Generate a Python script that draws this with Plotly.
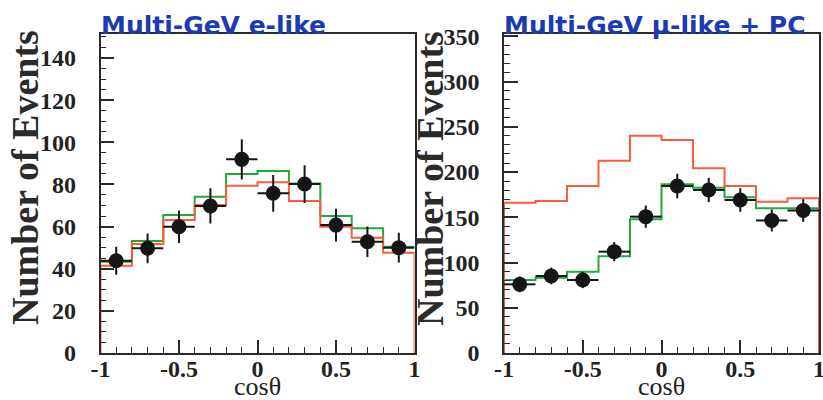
import numpy as np
import plotly.graph_objects as go

# ---------------- data ----------------
bin_edges = [-1.0, -0.8, -0.6, -0.4, -0.2, 0.0, 0.2, 0.4, 0.6, 0.8, 1.0]
bin_centers = [-0.9, -0.7, -0.5, -0.3, -0.1, 0.1, 0.3, 0.5, 0.7, 0.9]

# Multi-GeV e-like
e_data = [43.8, 49.7, 59.9, 69.8, 91.9, 75.8, 80.2, 60.7, 52.8, 50.0]
e_green = [43.3, 53.2, 65.5, 74.2, 85.0, 86.4, 80.5, 65.0, 59.2, 50.4]
e_red = [41.4, 51.7, 63.1, 70.2, 79.4, 81.0, 72.1, 59.9, 54.7, 47.6]

# Multi-GeV mu-like + PC
mu_data = [75.9, 85.1, 80.7, 112.0, 150.7, 184.6, 180.2, 169.1, 146.5, 157.5]
mu_green = [80.7, 83.2, 89.9, 106.9, 147.8, 186.5, 182.7, 172.1, 160.0, 160.0]
mu_red = [166.1, 168.0, 184.6, 212.6, 240.2, 235.5, 204.2, 184.6, 167.3, 171.0]

x_ticks = [-1, -0.5, 0, 0.5, 1]
x_tick_text = ["-1", "-0.5", "0", "0.5", "1"]
e_y_ticks = [0, 20, 40, 60, 80, 100, 120, 140]
mu_y_ticks = [0, 50, 100, 150, 200, 250, 300, 350]

titles = ["Multi-GeV e-like", "Multi-GeV \u03bc-like + PC"]
x_title = "cos\u03b8"
y_title = "Number of Events"

# ---------------- style ----------------
W, H = 823, 400
RED = "#ff5a3a"
GREEN = "#22a83c"
AXC = "#2a2a2a"
TITLE_BLUE = "#1a3cb0"
SERIF = "Liberation Serif"
SANS = "DejaVu Sans"

panels = [
    dict(data=e_data, green=e_green, red=e_red, yticks=e_y_ticks, ymax=151.4,
         minor=5, x0=100.5, x1=414.5, ytx=25),
    dict(data=mu_data, green=mu_green, red=mu_red, yticks=mu_y_ticks, ymax=352.6,
         minor=10, x0=504, x1=819, ytx=430),
]
y_top_px, y_bot_px = 34, 353


def step_xy(vals, drop=False):
    xs = list(bin_edges[:-1]) + [bin_edges[-1]]
    ys = list(vals) + [vals[-1]]
    if drop:
        xs = [bin_edges[0]] + xs + [bin_edges[-1]]
        ys = [0] + ys + [0]
    return xs, ys


def bold(s):
    return "<b>" + s + "</b>"


fig = go.Figure()
layout = dict(width=W, height=H, margin=dict(l=0, r=0, t=0, b=0, autoexpand=False),
              paper_bgcolor="white", plot_bgcolor="white", showlegend=False,
              annotations=[])

for i, p in enumerate(panels):
    xa = "x" if i == 0 else "x2"
    ya = "y" if i == 0 else "y2"
    gx, gy = step_xy(p["green"])
    fig.add_trace(go.Scatter(x=gx, y=gy, mode="lines", line=dict(color=GREEN, width=2, shape="hv"),
                             xaxis=xa, yaxis=ya, hoverinfo="skip"))
    rx, ry = step_xy(p["red"], drop=True)
    fig.add_trace(go.Scatter(x=rx, y=ry, mode="lines", line=dict(color=RED, width=2, shape="hv"),
                             xaxis=xa, yaxis=ya, hoverinfo="skip"))
    errs = [float(np.sqrt(v)) for v in p["data"]]
    fig.add_trace(go.Scatter(
        x=bin_centers, y=p["data"], mode="markers",
        marker=dict(color="#151515", size=15),
        error_y=dict(type="data", array=errs, color="#151515", thickness=2, width=0),
        error_x=dict(type="constant", value=0.1, color="#151515", thickness=2, width=0),
        xaxis=xa, yaxis=ya))

    xkey = "xaxis" if i == 0 else "xaxis2"
    ykey = "yaxis" if i == 0 else "yaxis2"
    layout[xkey] = dict(
        domain=[p["x0"] / W, p["x1"] / W], range=[-1, 1], anchor=ya, automargin=False,
        tickmode="array", tickvals=x_ticks, ticktext=[bold(t) for t in x_tick_text],
        ticks="inside", ticklen=13, tickwidth=1.5, tickcolor=AXC,
        minor=dict(tickmode="linear", tick0=-1, dtick=0.1, ticks="inside", ticklen=6,
                   tickwidth=1.2, tickcolor=AXC, showgrid=False),
        showline=True, linecolor=AXC, linewidth=1.5, mirror=True,
        showgrid=False, zeroline=False, ticklabelstandoff=-7,
        ticklabeloverflow="allow",
        tickfont=dict(family=SERIF, size=24, color="#222"))
    layout[ykey] = dict(
        domain=[1 - y_bot_px / H, 1 - y_top_px / H], range=[0, p["ymax"]], anchor=xa,
        automargin=False, ticklabeloverflow="allow",
        tickmode="array", tickvals=p["yticks"], ticktext=[bold(str(v)) for v in p["yticks"]],
        ticks="inside", ticklen=14, tickwidth=1.5, tickcolor=AXC,
        minor=dict(tickmode="linear", tick0=0, dtick=p["minor"], ticks="inside", ticklen=6,
                   tickwidth=1.2, tickcolor=AXC, showgrid=False),
        showline=True, linecolor=AXC, linewidth=1.5, mirror=True,
        showgrid=False, zeroline=False, ticklabelstandoff=18,
        tickfont=dict(family=SERIF, size=24, color="#222"))

    # panel title
    layout["annotations"].append(dict(
        text=bold(titles[i]), xref="paper", yref="paper",
        x=(p["x0"] - 2) / W, y=1 - 25 / H, xanchor="left", yanchor="middle",
        showarrow=False, font=dict(family=SANS, size=25, color=TITLE_BLUE)))
    # x title
    layout["annotations"].append(dict(
        text=x_title, xref="paper", yref="paper",
        x=(p["x0"] + p["x1"]) / 2 / W, y=1 - 386 / H, xanchor="center", yanchor="middle",
        showarrow=False, font=dict(family=SERIF, size=26, color="#222")))
    # y title
    layout["annotations"].append(dict(
        text=bold(y_title), xref="paper", yref="paper", textangle=-90,
        x=p["ytx"] / W, y=1 - 178 / H, xanchor="center", yanchor="middle",
        showarrow=False, font=dict(family=SERIF, size=38, color="#2a2a2a")))

fig.update_layout(**layout)
fig.write_html("out.html")
